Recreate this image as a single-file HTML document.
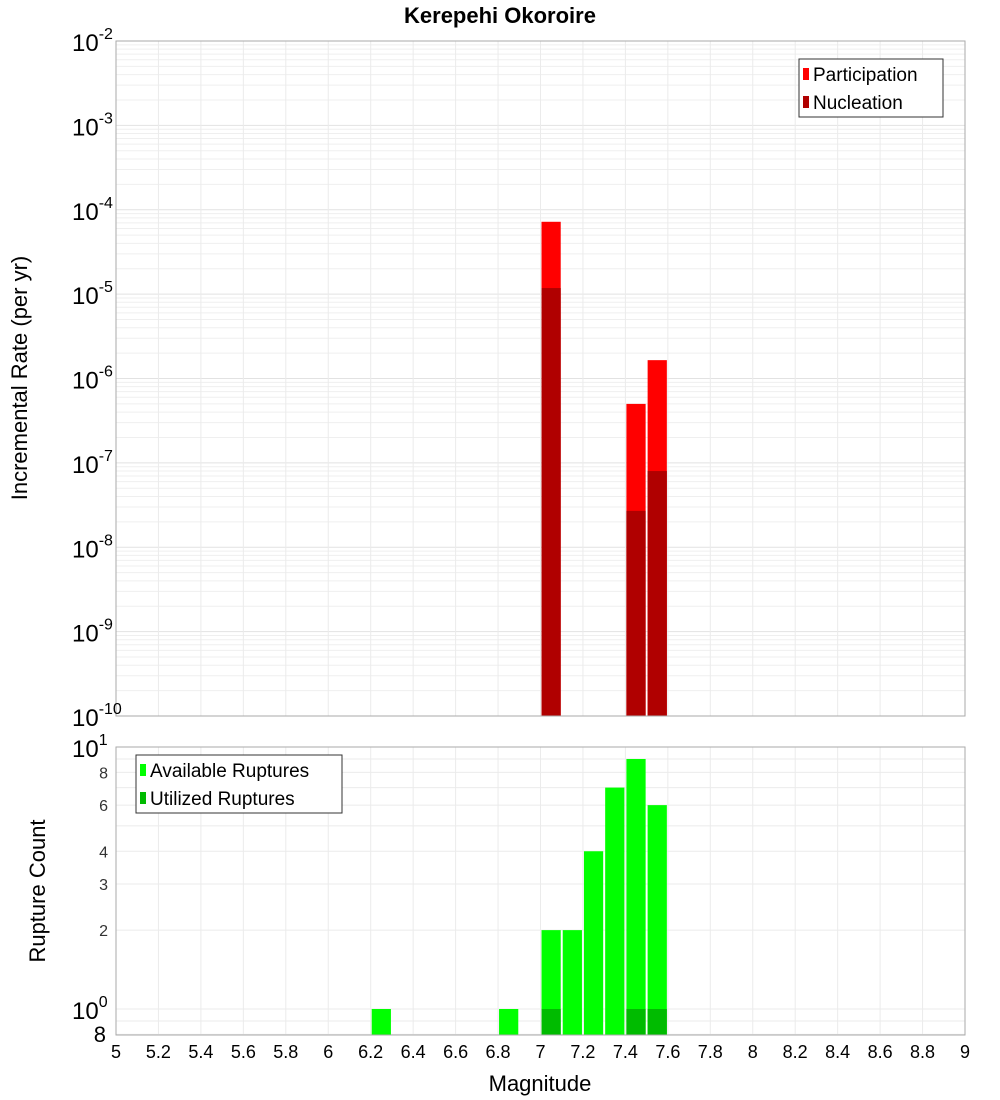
<!DOCTYPE html>
<html><head><meta charset="utf-8"><style>
body{margin:0;background:#fff;}
svg{display:block;font-family:"Liberation Sans","DejaVu Sans",sans-serif;}
</style></head><body>
<svg id="c" width="1000" height="1100" xmlns="http://www.w3.org/2000/svg">
<text x="500" y="23" text-anchor="middle" font-size="22" font-weight="bold">Kerepehi Okoroire</text>
<text transform="translate(27,378) rotate(-90)" text-anchor="middle" font-size="22">Incremental Rate (per yr)</text>
<text transform="translate(45,891) rotate(-90)" text-anchor="middle" font-size="22">Rupture Count</text>
<text x="540" y="1091" text-anchor="middle" font-size="22">Magnitude</text>
<g id="g"></g>
</svg>
<script>
const mags=[6.25,6.85,7.05,7.15,7.25,7.35,7.45,7.55];
const participation=[null,null,7.2e-5,null,null,null,5.0e-7,1.65e-6];
const nucleation=[null,null,1.18e-5,null,null,null,2.7e-8,8.0e-8];
const available=[1,1,2,2,4,7,9,6];
const utilized=[0,0,1,0,0,0,1,1];
const xTicks=[5,5.2,5.4,5.6,5.8,6,6.2,6.4,6.6,6.8,7,7.2,7.4,7.6,7.8,8,8.2,8.4,8.6,8.8,9];

const NS="http://www.w3.org/2000/svg";
const g=document.getElementById('g');
function el(t,a,txt){const e=document.createElementNS(NS,t);for(const k in a)e.setAttribute(k,a[k]);if(txt!=null)e.textContent=txt;g.appendChild(e);return e;}
const X0=116,X1=965;
const x=m=>X0+(m-5)/4*(X1-X0);
const T0=41,T1=716;
const yT=v=>T0+(-2-Math.log10(v))/8*(T1-T0);
const B0=747,B1=1035;
const yB=v=>1009-Math.log10(v)*262;

// top grid
for(let d=-10;d<-2;d++)for(let k=1;k<10;k++){const yy=yT(k*Math.pow(10,d));const l=el('line',{x1:X0,x2:X1,y1:yy,y2:yy,stroke:k==1?'#e2e2e2':'#efefef','stroke-width':1});}
// bottom grid
[0.8,0.9,1,2,3,4,5,6,7,8,9,10].forEach(v=>{const yy=yB(v);const l=el('line',{x1:X0,x2:X1,y1:yy,y2:yy,stroke:'#ebebeb'});});
xTicks.forEach(t=>{[[T0,T1],[B0,B1]].forEach(r=>{const l=el('line',{x1:x(t),x2:x(t),y1:r[0],y2:r[1],stroke:'#ebebeb'});});});

// top bars
const bw=(x(5.1)-x(5))-2;
mags.forEach((m,i)=>{
 if(participation[i]!=null){const yy=yT(participation[i]);const r=el('rect',{x:x(m)-bw/2,y:yy,width:bw,height:T1-yy,fill:'#ff0000'});}
 if(nucleation[i]!=null){const yy=yT(nucleation[i]);const r=el('rect',{x:x(m)-bw/2,y:yy,width:bw,height:T1-yy,fill:'#b00000'});}
 if(available[i]>0){const yy=yB(available[i]);const r=el('rect',{x:x(m)-bw/2,y:yy,width:bw,height:B1-yy,fill:'#00ff00'});}
 if(utilized[i]>0){const yy=yB(utilized[i]);const r=el('rect',{x:x(m)-bw/2,y:yy,width:bw,height:B1-yy,fill:'#00bb00'});}
});
// frames
let f=el('rect',{x:X0,y:T0,width:X1-X0,height:T1-T0,fill:'none',stroke:'#aaa'});
f=el('rect',{x:X0,y:B0,width:X1-X0,height:B1-B0,fill:'none',stroke:'#aaa'});

// top y labels
for(let d=-10;d<=-2;d++){const yy=yT(Math.pow(10,d));
 const t=el('text',{x:72,y:yy+10,'font-size':24});
 t.innerHTML='10<tspan dy="-12" font-size="16">'+d+'</tspan>';}
// bottom y labels
[[10,'10','1'],[1,'10','0']].forEach(a=>{const t=el('text',{x:72,y:yB(a[0])+10,'font-size':24});t.innerHTML=a[1]+'<tspan dy="-12" font-size="16">'+a[2]+'</tspan>';});
[8,6,4,3,2].forEach(v=>{const t=el('text',{x:108,y:yB(v)+6,'font-size':16,'text-anchor':'end',fill:'#333'},String(v));});
let t8=el('text',{x:106,y:1042,'font-size':22,'text-anchor':'end'},'8');
// x labels
xTicks.forEach(v=>{const t=el('text',{x:x(v),y:1058,'font-size':18,'text-anchor':'middle'},String(v));});

// legends
function legend(x0,y0,w,h,items,nm){const b=el('rect',{x:x0,y:y0,width:w,height:h,fill:'#fff',stroke:'#333'});
 items.forEach((it,i)=>{const cy=y0+15+i*28;const s=el('rect',{x:x0+4,y:cy-6,width:6,height:12,fill:it[1]});
 const t=el('text',{x:x0+14,y:cy+7,'font-size':19},it[0]);});}
legend(799,59,144,58,[['Participation','#ff0000'],['Nucleation','#b00000']],'top-legend');
legend(136,755,206,58,[['Available Ruptures','#00ff00'],['Utilized Ruptures','#00bb00']],'bottom-legend');
</script>
</body></html>
